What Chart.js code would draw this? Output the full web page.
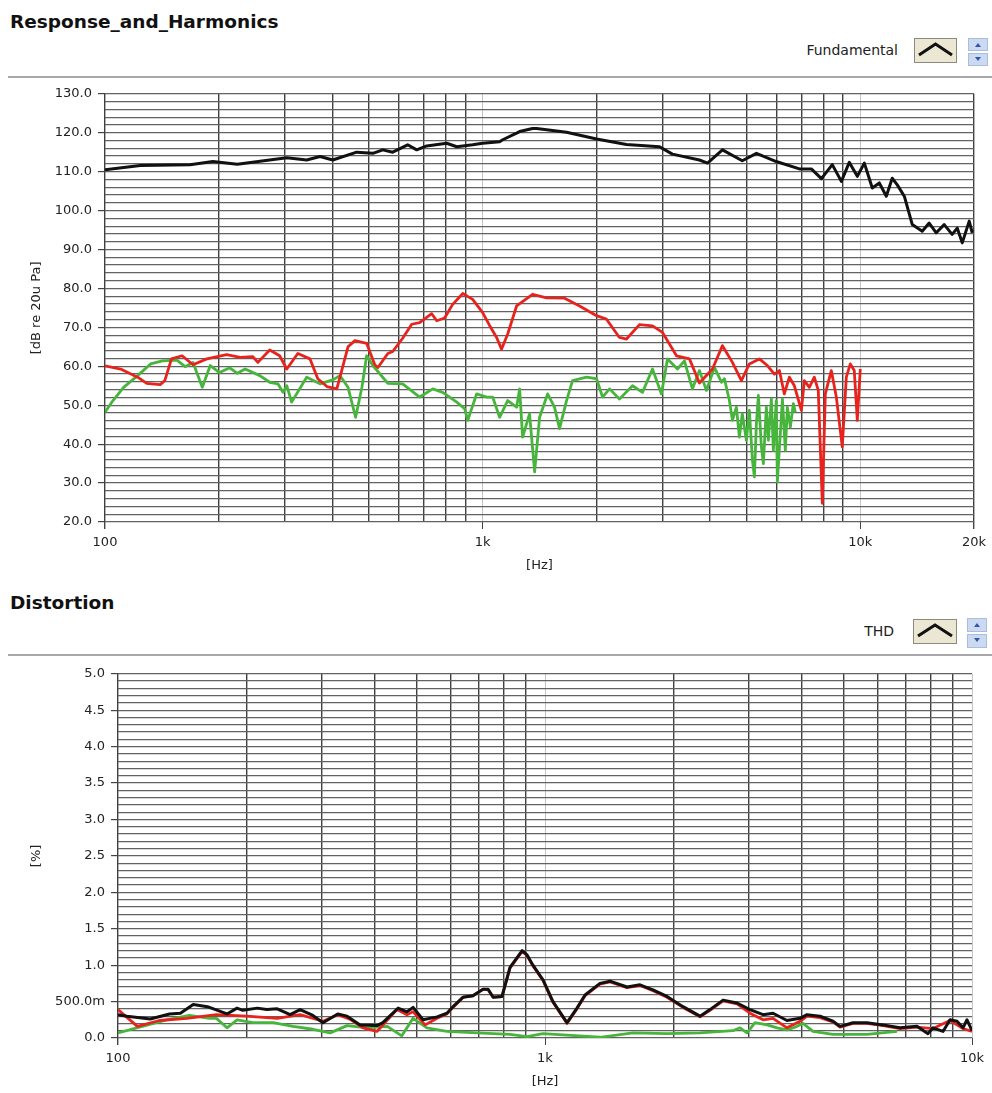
<!DOCTYPE html>
<html><head><meta charset="utf-8">
<script src="https://cdn.jsdelivr.net/npm/chart.js@4.4.1/dist/chart.umd.min.js"></script>
<style>
body{margin:0;background:#fff;width:992px;height:1093px;position:relative;overflow:hidden;font-family:"DejaVu Sans",sans-serif;}
.title{position:absolute;left:10px;font-weight:bold;font-size:18.5px;line-height:20px;color:#111;}
.leg{position:absolute;font-size:14px;line-height:16px;color:#222;}
.sep{position:absolute;left:8px;width:984px;height:2px;background:#a8a8a8;}
canvas{position:absolute;left:0;}
svg{position:absolute;}
</style></head>
<body>
<div class="title" style="top:12px">Response_and_Harmonics</div>
<div class="leg" style="top:42px;right:94px">Fundamental</div>
<svg style="left:912px;top:36px" width="78" height="32">
 <rect x="2.5" y="2.5" width="42" height="24" fill="#ebe7d2" stroke="#8a8a80"/>
 <polyline points="7,19 23.5,8 40,19" fill="none" stroke="#111" stroke-width="3"/>
 <rect x="56.5" y="2.5" width="19" height="12" fill="#cbd9f1" stroke="#a9bde0"/>
 <rect x="56.5" y="17.5" width="19" height="12" fill="#cbd9f1" stroke="#a9bde0"/>
 <path d="M63 11 L66 7 L69 11Z" fill="#3355aa"/>
 <path d="M63 21 L66 25 L69 21Z" fill="#3355aa"/>
</svg>
<div class="sep" style="top:76px"></div>
<canvas id="c1" width="992" height="500" style="top:80px"></canvas>

<div class="title" style="top:593px">Distortion</div>
<div class="leg" style="top:623px;right:98px">THD</div>
<svg style="left:911px;top:617px" width="78" height="32">
 <rect x="2.5" y="2.5" width="43" height="24" fill="#ebe7d2" stroke="#8a8a80"/>
 <polyline points="7,19 24,8 41,19" fill="none" stroke="#111" stroke-width="3"/>
 <rect x="56.5" y="1.5" width="19" height="13" fill="#cbd9f1" stroke="#a9bde0"/>
 <rect x="56.5" y="17.5" width="19" height="13" fill="#cbd9f1" stroke="#a9bde0"/>
 <path d="M63 10 L66 6 L69 10Z" fill="#3355aa"/>
 <path d="M63 21 L66 25 L69 21Z" fill="#3355aa"/>
</svg>
<div class="sep" style="top:654px"></div>
<canvas id="c2" width="992" height="433" style="top:660px"></canvas>

<script>
// ---------- Response_and_Harmonics ----------
const fundFreq = [100,124,168,193,224,303,342,371,401,464,512,544,578,633,669,711,803,854,941,1000,1109,1130,1230,1253,1356,1390,1668,2003,2404,2940,3180,3750,3940,4315,4870,5310,5990,6900,7420,7890,8430,8910,9350,9820,10250,10760,11230,11720,12150,12530,13080,13730,14590,15220,15890,16680,17510,18060,18620,19430,19790];
const fundDb   = [110.5,111.6,111.8,112.6,111.9,113.6,113.0,113.9,113.0,115.0,114.7,115.6,115.0,116.9,115.6,116.6,117.3,116.4,116.9,117.3,117.7,118.2,119.9,120.3,121.1,121.1,120.1,118.4,117.0,116.4,114.5,113.0,112.2,115.6,112.8,114.7,112.6,110.7,110.7,108.2,111.8,107.5,112.4,108.8,112.2,105.8,107.1,103.7,108.3,106.6,103.7,96.4,94.7,96.8,94.3,96.4,93.9,95.5,91.7,97.3,94.3];

const h2Freq = [100,110,122,129,140,144,150,160,171,186,210,228,246,254,273,290,303,324,349,366,387,411,419,440,459,493,518,528,561,578,614,649,681,733,756,793,833,886,941,1000,1043,1089,1122,1165,1230,1356,1477,1648,1806,2003,2128,2303,2404,2602,2817,2994,3261,3529,3750,4060,4315,4586,4844,5085,5405,5675,5923,6107,6293,6490,6690,6982,7110,7330,7555,7741,7933,8080,8380,8642,8960,9184,9409,9640,9820,10000];
const h2Db   = [60.1,59.3,57.2,55.6,55.3,56.3,61.9,62.7,60.4,61.9,63.0,62.3,62.5,61.0,64.2,62.7,59.3,63.3,61.9,56.8,54.8,54.2,57.2,65.0,66.6,65.9,60.4,59.7,63.3,63.8,67.2,70.8,71.2,73.5,71.7,72.4,75.9,78.7,77.2,73.8,70.5,67.4,64.4,68.3,75.5,78.5,77.6,77.5,75.5,73.0,72.1,67.4,67.0,70.7,70.4,68.7,62.7,61.9,55.7,59.3,65.3,61.0,56.3,60.6,61.9,60.2,58.0,58.9,52.9,57.2,55.0,48.7,56.3,54.6,57.2,53.8,24.8,52.9,58.9,52.1,39.3,57.2,60.6,58.9,46.1,59.3];

const h3Freq = [100,105,112,122,132,142,155,163,171,181,190,201,214,224,235,257,273,287,296,303,312,342,371,401,419,440,461,479,493,512,561,614,681,738,784,854,896,913,964,1025,1063,1109,1165,1230,1253,1276,1331,1373,1415,1486,1550,1598,1668,1730,1884,2003,2077,2168,2303,2494,2650,2817,2975,3086,3280,3422,3594,3750,3914,4110,4289,4368,4502,4586,4698,4785,4870,4993,5085,5180,5244,5307,5372,5472,5538,5640,5709,5815,5886,5990,6031,6142,6220,6332,6410,6528,6649,6730];
const h3Db   = [48.2,51.2,54.6,57.6,60.6,61.4,61.6,59.9,61.0,54.6,60.2,58.4,59.6,58.2,59.3,57.6,55.9,55.5,53.3,55.0,50.8,57.2,55.5,56.5,57.6,54.6,46.9,54.6,62.7,60.2,55.6,55.5,52.1,54.2,53.3,50.8,49.1,46.1,52.9,52.1,52.1,46.9,51.2,49.5,54.2,41.8,47.8,32.9,46.9,52.9,49.5,44.0,51.2,56.3,57.2,56.8,52.1,54.2,51.6,55.0,53.3,59.3,52.9,61.9,59.3,61.4,54.2,58.9,53.8,59.7,55.9,56.8,51.2,46.1,49.5,41.8,47.8,41.0,48.7,35.9,31.6,45.2,52.5,39.3,35.0,49.5,41.0,51.6,38.4,51.2,30.3,42.7,51.6,38.4,49.5,44.4,50.4,48.2];

const topGridFreqs = [100,200,300,400,500,600,700,800,900,1000,2000,3000,4000,5000,6000,7000,8000,9000,10000,20000];
const topTickValues = [100,1000,10000,20000];
const topTickLabels = ['100','1k','10k','20k'];

// ---------- Distortion ----------
const thdFreq = [100,105,119,132,140,150,162,180,190,196,212,223,236,253,267,286,302,327,344,369,404,417,453,475,491,518,559,589,609,643,678,716,736,756,793,828,884,908,937,989,1044,1126,1188,1241,1345,1420,1556,1669,1790,1931,2105,2307,2434,2612,2817,3020,3241,3420,3687,3956,4108,4406,4726,4908,5263,5677,6189,6782,7431,7888,8104,8553,8882,9224,9526,9734,10000];
const thdPct  = [0.32,0.30,0.26,0.33,0.34,0.46,0.43,0.33,0.41,0.38,0.41,0.39,0.40,0.32,0.39,0.31,0.21,0.33,0.30,0.18,0.17,0.21,0.41,0.36,0.42,0.25,0.29,0.34,0.43,0.56,0.58,0.67,0.67,0.56,0.57,0.97,1.20,1.14,1.00,0.80,0.50,0.21,0.41,0.59,0.75,0.78,0.70,0.73,0.66,0.57,0.43,0.30,0.39,0.52,0.48,0.39,0.32,0.34,0.24,0.27,0.32,0.30,0.23,0.16,0.21,0.21,0.18,0.14,0.16,0.06,0.14,0.09,0.25,0.23,0.14,0.25,0.10];

const d2Freq = [100,111,125,145,170,200,236,267,302,327,349,375,404,450,475,491,524,559,589,609,643,678,716,736,756,793,828,884,908,937,989,1044,1126,1188,1241,1345,1420,1556,1669,1790,1931,2105,2307,2434,2612,2817,3020,3241,3420,3687,3956,4108,4406,4726,4908,5263,5677,6189,6782,7431,8104,8882,9526,10000];
const d2Pct  = [0.39,0.16,0.24,0.27,0.32,0.30,0.27,0.32,0.23,0.32,0.26,0.14,0.09,0.39,0.32,0.36,0.18,0.27,0.33,0.42,0.56,0.58,0.67,0.66,0.56,0.57,0.96,1.19,1.13,0.99,0.79,0.49,0.20,0.40,0.58,0.74,0.77,0.69,0.72,0.65,0.56,0.42,0.29,0.38,0.51,0.47,0.34,0.25,0.27,0.14,0.23,0.30,0.28,0.22,0.15,0.20,0.20,0.17,0.13,0.15,0.13,0.24,0.13,0.09];

const d3Freq = [100,114,130,147,164,170,180,190,207,231,257,286,314,344,383,427,462,491,529,589,693,828,908,989,1126,1345,1607,1931,2307,2756,2862,2972,3103,3312,3495,3687,3892,4020,4243,4726,5677,6673];
const d3Pct  = [0.07,0.16,0.25,0.31,0.27,0.27,0.14,0.25,0.21,0.21,0.16,0.12,0.07,0.17,0.14,0.16,0.03,0.27,0.14,0.09,0.07,0.05,0.02,0.06,0.04,0.01,0.07,0.06,0.07,0.10,0.14,0.07,0.21,0.18,0.14,0.11,0.16,0.20,0.09,0.05,0.05,0.09];

const botGridFreqs = [100,200,300,400,500,600,700,800,900,1000,2000,3000,4000,5000,6000,7000,8000,9000,10000];
const botTickValues = [100,1000,10000];
const botTickLabels = ['100','1k','10k'];

// ---------- helpers ----------
const FONT = 'DejaVu Sans';
const TXT = '#222';
const pts = (xs, ys) => xs.map((x, i) => ({x: x, y: ys[i]}));
const line = (xs, ys, color, w) => ({data: pts(xs, ys), borderColor: color, borderWidth: w, pointRadius: 0, tension: 0, fill: false, borderJoinStyle: 'round'});
const lightLines = [1000, 10000];

function xAxis(min, max, gridFreqs, tickVals, tickLabels, axisH, titlePad) {
  return {
    type: 'logarithmic', min: min, max: max,
    afterBuildTicks: s => { s.ticks = gridFreqs.map(v => ({value: v})); },
    afterFit: s => { s.height = axisH; },
    ticks: {autoSkip: false, maxRotation: 0, minRotation: 0, padding: 6, color: TXT, font: {family: FONT, size: 13},
      callback: v => { const i = tickVals.indexOf(v); return i >= 0 ? tickLabels[i] : ''; }},
    grid: {tickLength: 7,
      lineWidth: c => (c.tick && lightLines.includes(c.tick.value)) ? 1 : 1.4,
      color: c => (c.tick && lightLines.includes(c.tick.value)) ? '#c4c4c4' : '#404040',
      tickColor: c => (c.tick && tickVals.includes(c.tick.value)) ? '#444' : 'rgba(0,0,0,0)'},
    border: {display: false},
    title: {display: true, text: '[Hz]', color: TXT, font: {family: FONT, size: 13}, padding: {top: 0, bottom: titlePad}}
  };
}

function yAxis(min, max, step, axisW, title, labelFn, isMajor) {
  return {
    min: min, max: max,
    afterFit: s => { s.width = axisW; },
    ticks: {stepSize: step, autoSkip: false, padding: 6, color: TXT, font: {family: FONT, size: 13}, callback: labelFn},
    grid: {lineWidth: 1.2, tickLength: 7, color: '#626262',
      tickColor: c => (c.tick && isMajor(c.tick.value)) ? '#444' : 'rgba(0,0,0,0)'},
    border: {display: false},
    title: {display: true, text: title, color: TXT, font: {family: FONT, size: 13}, padding: {top: 29, bottom: 0}}
  };
}

const common = {
  responsive: false, animation: false, devicePixelRatio: 1,
  plugins: {legend: {display: false}, tooltip: {enabled: false}, title: {display: false}}
};

const topMajor = v => Math.round(v) % 10 === 0;
new Chart(document.getElementById('c1'), {
  type: 'line',
  data: {datasets: [
    line(fundFreq, fundDb, '#111111', 3),
    line(h2Freq, h2Db, '#e8231d', 2.8),
    line(h3Freq, h3Db, '#47b53c', 2.8)
  ]},
  options: Object.assign({}, common, {
    layout: {padding: {top: 12, right: 18, left: 0, bottom: 0}},
    scales: {
      x: xAxis(100, 20000, topGridFreqs, topTickValues, topTickLabels, 58, 7),
      y: yAxis(20, 130, 2, 105, '[dB re 20u Pa]', v => topMajor(v) ? Number(v).toFixed(1) : '', topMajor)
    }
  })
});

const botMajor = v => Math.round(v * 10) % 5 === 0;
new Chart(document.getElementById('c2'), {
  type: 'line',
  data: {datasets: [
    line(thdFreq, thdPct, '#111111', 3),
    line(d2Freq, d2Pct, '#e8231d', 2.8),
    line(d3Freq, d3Pct, '#47b53c', 2.8)
  ]},
  options: Object.assign({}, common, {
    layout: {padding: {top: 12, right: 20, left: 0, bottom: 0}},
    scales: {
      x: xAxis(100, 10000, botGridFreqs, botTickValues, botTickLabels, 55, 3.5),
      y: yAxis(0, 5, 0.1, 118, '[%]', v => {
        const r = Math.round(v * 10);
        if (r % 5 !== 0) return '';
        return r === 5 ? '500.0m' : (r / 10).toFixed(1);
      }, botMajor)
    }
  })
});
</script>
</body></html>
